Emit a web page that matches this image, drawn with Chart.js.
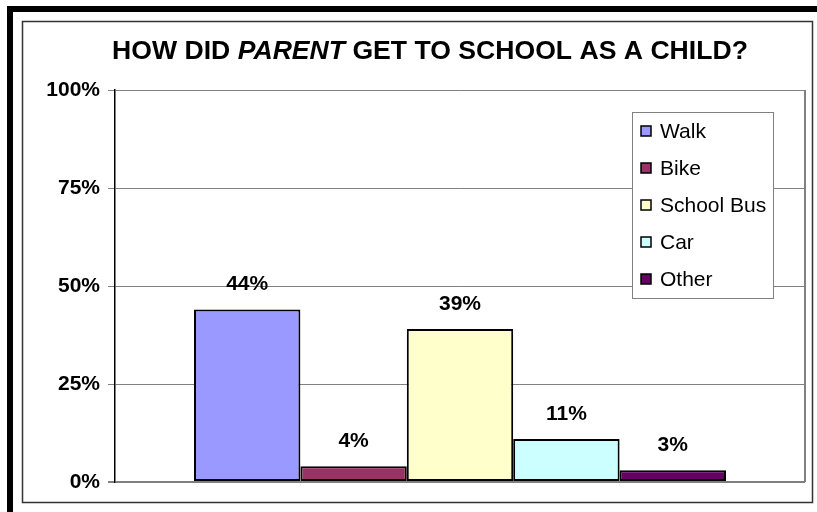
<!DOCTYPE html>
<html>
<head>
<meta charset="utf-8">
<script src="https://cdn.jsdelivr.net/npm/chart.js@4"></script>
<style>
  body { margin: 0; background: #fff; }
  #wrap { width: 817px; height: 512px; }
</style>
</head>
<body>
<div id="wrap"><canvas id="modeChart" width="817" height="512"></canvas></div>
<script>
const categories = ["Walk", "Bike", "School Bus", "Car", "Other"];
const shares = [44, 4, 39, 11, 3];
const barColors = ["#9999FF", "#993366", "#FFFFCC", "#CCFFFF", "#660066"];
const yTicks = [0, 25, 50, 75, 100];

const FONT = '"Liberation Sans", Arial, sans-serif';

// outer frame: black shadow strips on top/left plus thin inner border
const framePlugin = {
  id: "frame",
  beforeDraw(chart) {
    const c = chart.ctx;
    c.save();
    c.fillStyle = "#fff";
    c.fillRect(0, 0, chart.width, chart.height);
    c.fillStyle = "#000";
    c.fillRect(7, 6, chart.width - 7, 6);
    c.fillRect(7, 6, 6, chart.height - 6);
    c.strokeStyle = "#333";
    c.lineWidth = 1.5;
    c.strokeRect(22.5, 21.5, 790, 481);
    c.restore();
  },
  beforeDatasetsDraw(chart) {
    // right edge of the plot area
    const a = chart.chartArea;
    const c = chart.ctx;
    c.save();
    c.strokeStyle = "#808080";
    c.lineWidth = 2;
    c.beginPath();
    c.moveTo(a.right, a.top);
    c.lineTo(a.right, a.bottom);
    c.stroke();
    c.restore();
  }
};

// title with the italic word in the middle
const titlePlugin = {
  id: "mixedTitle",
  afterDraw(chart) {
    const c = chart.ctx;
    const size = "26.6px ";
    const parts = [
      ["HOW DID ", "bold " + size + FONT],
      ["PARENT", "italic bold " + size + FONT],
      [" GET TO SCHOOL AS A CHILD?", "bold " + size + FONT]
    ];
    c.save();
    c.fillStyle = "#000";
    c.textBaseline = "middle";
    let total = 0;
    parts.forEach(([t, f]) => { c.font = f; total += c.measureText(t).width; });
    let x = 430 - total / 2;
    parts.forEach(([t, f]) => {
      c.font = f;
      c.fillText(t, x, 52);
      x += c.measureText(t).width;
    });
    c.restore();
  }
};

// value labels above each bar
const valueLabels = {
  id: "valueLabels",
  afterDatasetsDraw(chart) {
    const c = chart.ctx;
    c.save();
    c.font = "bold 21px " + FONT;
    c.fillStyle = "#000";
    c.textAlign = "center";
    c.textBaseline = "middle";
    chart.data.datasets.forEach((ds, i) => {
      chart.getDatasetMeta(i).data.forEach((bar, j) => {
        c.fillText(ds.data[j] + "%", bar.x, bar.y - 25);
      });
    });
    c.restore();
  }
};

// boxed legend sitting inside the plot area
const boxLegend = {
  id: "boxLegend",
  afterDraw(chart) {
    const a = chart.chartArea;
    const c = chart.ctx;
    const x = a.right - 173, y = a.top + 22, w = 141, h = 186;
    c.save();
    c.fillStyle = "#fff";
    c.fillRect(x, y, w, h);
    c.strokeStyle = "#808080";
    c.lineWidth = 1;
    c.strokeRect(x + 0.5, y + 0.5, w, h);
    c.font = "21px " + FONT;
    c.textBaseline = "middle";
    chart.data.datasets.forEach((ds, i) => {
      const cy = y + 19 + i * 37;
      c.fillStyle = ds.backgroundColor;
      c.fillRect(x + 9, cy - 5, 10, 10);
      c.strokeStyle = "#000";
      c.lineWidth = 1.5;
      c.strokeRect(x + 9, cy - 5, 10, 10);
      c.fillStyle = "#000";
      c.fillText(ds.label, x + 28, cy + 1);
    });
    c.restore();
  }
};

const datasets = categories.map((name, i) => ({
  label: name,
  data: [shares[i]],
  backgroundColor: barColors[i],
  borderColor: "#000",
  borderWidth: 2,
  borderSkipped: false,
  categoryPercentage: 0.771,
  barPercentage: 1
}));

new Chart(document.getElementById("modeChart"), {
  type: "bar",
  data: { labels: [""], datasets: datasets },
  options: {
    responsive: false,
    animation: false,
    layout: { padding: { left: 22, right: 12, top: 90, bottom: 30 } },
    plugins: {
      legend: { display: false },
      title: { display: false },
      tooltip: { enabled: false }
    },
    scales: {
      x: { display: false },
      y: {
        min: 0,
        max: 100,
        afterBuildTicks: (scale) => {
          scale.ticks = yTicks.map((v) => ({ value: v }));
        },
        afterFit: (scale) => { scale.width = 93; },
        ticks: {
          callback: (v) => v + "%",
          color: "#000",
          font: { family: FONT, size: 21, weight: "bold" },
          padding: 8
        },
        grid: {
          color: "#808080",
          lineWidth: (ctx) => (ctx.tick && ctx.tick.value === 0 ? 2 : 1),
          tickLength: 7
        },
        border: { color: "#000", width: 1.5 }
      }
    }
  },
  plugins: [framePlugin, titlePlugin, valueLabels, boxLegend]
});
</script>
</body>
</html>
